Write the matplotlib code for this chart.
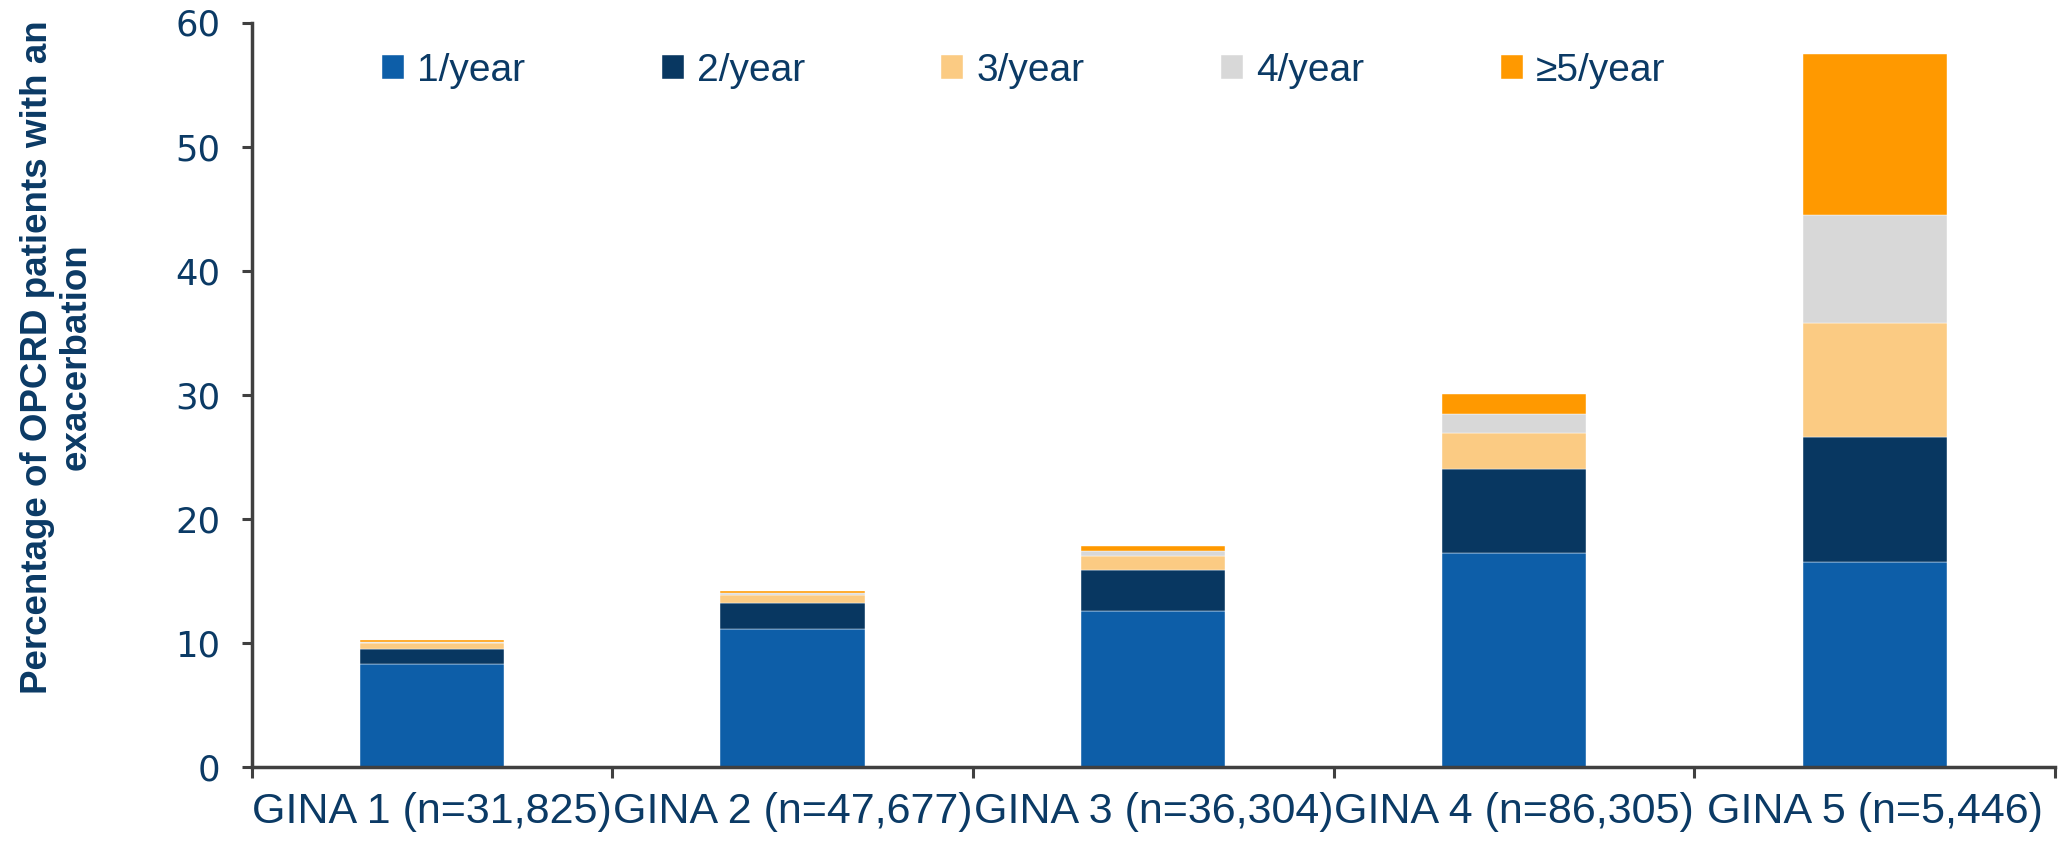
import matplotlib
matplotlib.use("Agg")
import matplotlib.pyplot as plt
import numpy as np

categories = ["GINA 1 (n=31,825)", "GINA 2 (n=47,677)", "GINA 3 (n=36,304)",
              "GINA 4 (n=86,305)", "GINA 5 (n=5,446)"]
series_names = ["1/year", "2/year", "3/year", "4/year", "≥5/year"]
one_per_year = [8.3, 11.15, 12.6, 17.3, 16.5]
two_per_year = [1.26, 2.07, 3.31, 6.72, 10.1]
three_per_year = [0.43, 0.62, 1.08, 2.94, 9.2]
four_per_year = [0.13, 0.21, 0.46, 1.54, 8.7]
five_plus_per_year = [0.16, 0.17, 0.38, 1.56, 13.0]
yticks = [0, 10, 20, 30, 40, 50, 60]

colors = ["#0D5EA8", "#083761", "#FBCB83", "#D8D8D8", "#FF9900"]
text_color = "#0B3A65"
spine_color = "#404040"

W, H = 2059, 843
fig = plt.figure(figsize=(W / 100, H / 100), dpi=100)
ax = fig.add_axes([251.5 / W, (H - 767.3) / H, (2055 - 251.5) / W, (767.3 - 22.5) / H])

x = np.arange(len(categories))
series = [one_per_year, two_per_year, three_per_year, four_per_year, five_plus_per_year]
bottom = np.zeros(len(categories))
for name, vals, c in zip(series_names, series, colors):
    ax.bar(x, vals, width=0.4, bottom=bottom, color=c, label=name,
           edgecolor="white", linewidth=0.3)
    bottom += np.array(vals)

ax.set_xlim(-0.5, len(categories) - 0.5)
ax.set_ylim(0, 60)
ax.set_yticks(yticks)
ax.set_yticklabels([str(v) for v in yticks], fontsize=25.5, color=text_color,
                   family=["DejaVu Sans"])
ax.set_xticks(x)
ax.set_xticklabels(categories, fontsize=31, color=text_color,
                   family=["Liberation Sans", "DejaVu Sans"])
ax.set_xticks(np.arange(-0.5, len(categories)), minor=True)
ax.tick_params(axis="x", which="major", length=0, pad=18)
ax.tick_params(axis="x", which="minor", length=8, width=2.2, color=spine_color, direction="out")
ax.tick_params(axis="y", length=7.5, width=2.2, color=spine_color, direction="out", pad=15)

for s in ["top", "right"]:
    ax.spines[s].set_visible(False)
for s in ["left", "bottom"]:
    ax.spines[s].set_color(spine_color)
    ax.spines[s].set_linewidth(2.5)

fig.text(57 / W, 1 - 357 / H, "Percentage of OPCRD patients with an\nexacerbation",
         rotation=90, ha="center", va="center", multialignment="center",
         fontsize=26.5, fontweight="bold", color=text_color,
         family=["Liberation Sans", "DejaVu Sans"], linespacing=1.15)

fs = 28
em = fs * 100 / 72
leg = ax.legend(loc="upper left", bbox_to_anchor=(391 / W, 1 - 40 / H),
                bbox_transform=fig.transFigure, ncol=5, frameon=False,
                prop={"family": ["Liberation Sans", "DejaVu Sans"], "size": fs},
                handlelength=22 / em, handleheight=22 / em, handletextpad=13 / em,
                columnspacing=3.51, borderaxespad=0, borderpad=0)
for t in leg.get_texts():
    t.set_color(text_color)

# align the first legend marker to its place in the reference
fig.canvas.draw()
bb = leg.legend_handles[0].get_window_extent(fig.canvas.get_renderer())
dx = 391 - bb.x0 - 9
dy = (H - 67) - (bb.y0 + bb.y1) / 2
leg.set_bbox_to_anchor((391 / W + dx / W, 1 - 40 / H + dy / H), transform=fig.transFigure)

fig.savefig("out.png", dpi=100, facecolor="white")
